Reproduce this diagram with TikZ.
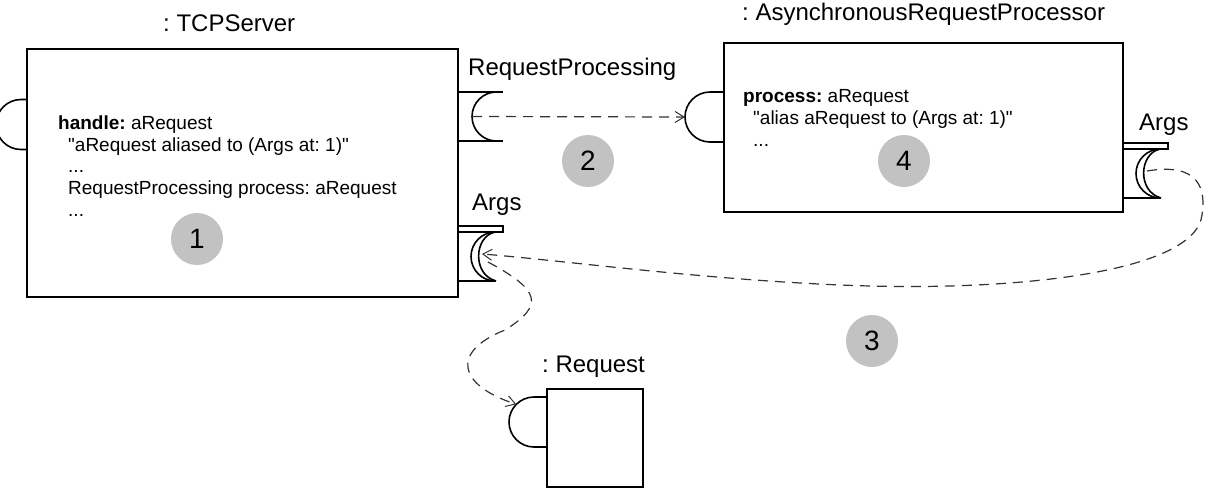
\documentclass[tikz,border=0pt]{standalone}
\usepackage{fontspec}
\setmainfont{Liberation Sans}
\usetikzlibrary{arrows.meta}
\frenchspacing

\tikzset{
  part/.style={draw, line width=1.6pt, inner sep=0pt, outer sep=0pt},
  port/.style={line width=1.6pt},
  dep/.style={dash pattern=on 10pt off 7pt, line width=1.2pt, draw=black!80,
    -{Straight Barb[length=9pt,width=11pt,line width=1pt]}},
  num/.style={circle, fill=black!24, minimum size=52pt, inner sep=0pt,
    font=\fontsize{28}{28}\selectfont},
  lbl/.style={anchor=base west, inner sep=0pt, font=\fontsize{24}{24}\selectfont},
  body/.style={anchor=north west, inner sep=0pt, align=left,
    font=\fontsize{19}{21.75}\selectfont},
  % provided interface, #1 = stub length
  ball/.pic={
    \draw[port] (0,25) -- (-#1,25) arc[start angle=90, end angle=270, radius=25] -- (0,-25);
    \coordinate (-w) at (-#1-25,0);
    \coordinate (-nw) at (-#1-17.7,17.7);
  },
  % required interface
  socket/.pic={
    \draw[port] (0,24.5) -- (45,24.5);
    \draw[port] (0,-24.5) -- (45,-24.5);
    \draw[port] (38.5,24.5) arc[start angle=90, end angle=270, radius=24.5];
    \coordinate (-c) at (14,0);
  },
  % multiple required interface
  argsocket/.pic={
    \draw[port] (0,30.5) -- (45,30.5) -- (45,24.5) -- (0,24.5);
    \draw[port] (37.5,24.5) arc[start angle=90, end angle=270, radius=24.5] -- (0,-24.5);
    \draw[port] (37,24.5) .. controls (16,20) and (14,-18) .. (38,-24.5);
    \coordinate (-in) at (24,2.5);
    \coordinate (-down) at (30,-5.5);
  },
}

\newcommand{\dq}{\textquotedbl}

\begin{document}
\begin{tikzpicture}[x=1pt, y=1pt]
  \useasboundingbox (0,0) rectangle (1218,-496);

  % parts
  \node[part, minimum width=431pt, minimum height=248pt] (tcp) at (242.5,-173) {};
  \node[part, minimum width=399pt, minimum height=169pt] (arp) at (923.5,-127.5) {};
  \node[part, minimum width=96pt, minimum height=98pt] (req) at (595,-438) {};

  % names
  \node[lbl] (tcplabel) at (163,-31) {: TCPServer};
  \node[lbl] (arplabel) at (742,-20) {: AsynchronousRequestProcessor};
  \node[lbl] (reqlabel) at (542,-372) {: Request};
  \node[lbl] (rplabel) at (468,-75) {RequestProcessing};
  \node[lbl] (argsllabel) at (472,-210) {Args};
  \node[lbl] (argsrlabel) at (1139,-130) {Args};

  % methods
  \node[body] (tcptext) at (58,-115.4) {\textbf{handle:} aRequest\\
    \hspace*{10pt}\dq aRequest aliased to (Args at: 1)\dq\\
    \hspace*{10pt}...\\
    \hspace*{10pt}RequestProcessing process: aRequest\\
    \hspace*{10pt}...};
  \node[body] (arptext) at (743,-89.4) {\textbf{process:} aRequest\\
    \hspace*{10pt}\dq alias aRequest to (Args at: 1)\dq\\
    \hspace*{10pt}...};

  % ports
  \pic (tcpball) at ([yshift=-75.5pt]tcp.north west) {ball=6};
  \pic (rp) at ([yshift=-67.5pt]tcp.north east) {socket};
  \pic (tcpargs) at ([yshift=-207.5pt]tcp.north east) {argsocket};
  \pic (arpball) at ([yshift=-74pt]arp.north west) {ball=14};
  \pic (arpargs) at ([yshift=-130.5pt]arp.north east) {argsocket};
  \pic (reqball) at ([yshift=-33pt]req.north west) {ball=13};

  % steps
  \node[num] (n1) at (197,-239) {1};
  \node[num] (n2) at (588,-161) {2};
  \node[num] (n3) at (872,-341) {3};
  \node[num] (n4) at (904,-161) {4};

  % messages
  \draw[dep] (rp-c) -- (arpball-w);
  \draw[dep] (arpargs-in) .. controls (1200,-162) and (1206,-190) .. (1202,-215)
    .. controls (1195,-272) and (1020,-290) .. (870,-286)
    .. controls (720,-282) and (560,-260) .. (tcpargs-in);
  \draw[dep] (tcpargs-down) .. controls (540,-290) and (545,-305) .. (505,-330)
    .. controls (450,-352) and (458,-385) .. (reqball-nw);
\end{tikzpicture}
\end{document}
